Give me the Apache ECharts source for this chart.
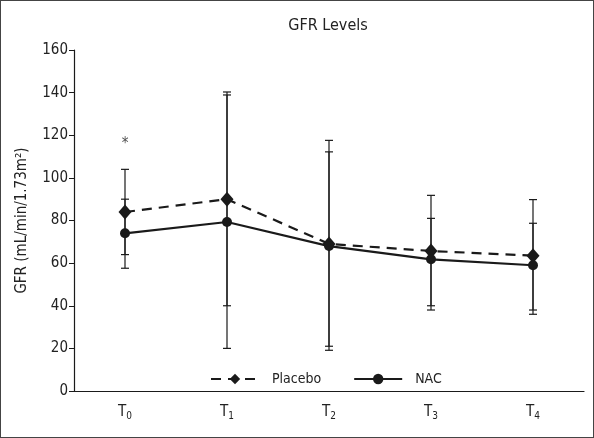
<!DOCTYPE html>
<html><head><meta charset="utf-8">
<script src="https://cdn.jsdelivr.net/npm/echarts@6/dist/echarts.min.js"></script>
<style>
html,body{margin:0;padding:0;background:#fff;}
#c{width:594px;height:438px;box-sizing:border-box;border:1px solid #444;}
</style></head>
<body><div id="c"></div>
<script>
var categories = ['0','1','2','3','4'];
var placeboMean = [84, 90, 69, 65.7, 63.5];
var placeboLow  = [64, 40, 21, 40, 38];
var placeboHigh = [104, 140.3, 117.6, 91.8, 89.8];
var nacMean = [74, 79.3, 68, 61.8, 59];
var nacLow  = [57.6, 20, 19.1, 38, 36];
var nacHigh = [90, 138.9, 112.2, 81, 78.7];
var yTicks = [0, 20, 40, 60, 80, 100, 120, 140, 160];
var starPoint = [[0, 116]];

var FONT = "'Liberation Sans Narrow','DejaVu Sans Condensed','Roboto',sans-serif";
var INK = '#1a1a1a';

function errData(lo, hi) {
  return categories.map(function (c, i) { return [i, lo[i], hi[i]]; });
}
function errRender(params, api) {
  var x = api.value(0);
  var lo = api.coord([x, api.value(1)]);
  var hi = api.coord([x, api.value(2)]);
  var hw = 4;
  var st = { stroke: INK, lineWidth: 1.2 };
  return {
    type: 'group',
    children: [
      { type: 'line', shape: { x1: lo[0], y1: lo[1], x2: hi[0], y2: hi[1] }, style: st },
      { type: 'line', shape: { x1: lo[0] - hw, y1: lo[1], x2: lo[0] + hw, y2: lo[1] }, style: st },
      { type: 'line', shape: { x1: hi[0] - hw, y1: hi[1], x2: hi[0] + hw, y2: hi[1] }, style: st }
    ]
  };
}

var chart = echarts.init(document.getElementById('c'), null, { renderer: 'canvas' });
chart.setOption({
  animation: false,
  backgroundColor: '#fff',
  textStyle: { fontFamily: FONT, color: '#222' },
  title: {
    text: 'GFR Levels', left: 322, top: 12, textAlign: 'center',
    textStyle: { fontFamily: FONT, fontSize: 16, fontWeight: 'normal', color: '#222' }
  },
  grid: { left: 73, top: 49, width: 510, height: 341 },
  legend: {
    left: 204, top: 366, itemWidth: 48, itemHeight: 13, itemGap: 32,
    textStyle: { fontFamily: FONT, fontSize: 14, color: '#222', padding: [0, 0, 0, 8] },
    data: ['Placebo', 'NAC']
  },
  xAxis: {
    type: 'category', data: categories,
    axisLine: { lineStyle: { color: INK, width: 1.2 } },
    axisTick: { show: false },
    axisLabel: {
      margin: 12,
      formatter: function (v) { return '{t|T}{s|' + v + '}'; },
      rich: {
        t: { fontFamily: FONT, fontSize: 15, color: '#222' },
        s: { fontFamily: FONT, fontSize: 10, color: '#222', padding: [8, 0, 0, 0] }
      }
    }
  },
  yAxis: {
    type: 'value', min: yTicks[0], max: yTicks[yTicks.length - 1], interval: 20,
    name: 'GFR (mL/min/1.73m²)', nameLocation: 'middle', nameGap: 44, nameRotate: 90,
    nameTextStyle: { fontFamily: FONT, fontSize: 15, color: '#222' },
    axisLine: { show: true, lineStyle: { color: INK, width: 1.2 } },
    axisTick: { show: true, length: 5, lineStyle: { color: INK } },
    splitLine: { show: false },
    axisLabel: { fontFamily: FONT, fontSize: 15, color: '#222', margin: 6 }
  },
  series: [
    {
      name: 'PlaceboErr', type: 'custom', renderItem: errRender, data: errData(placeboLow, placeboHigh),
      encode: { x: 0, y: [1, 2] }, z: 1, silent: true
    },
    {
      name: 'NACErr', type: 'custom', renderItem: errRender, data: errData(nacLow, nacHigh),
      encode: { x: 0, y: [1, 2] }, z: 1, silent: true
    },
    {
      name: 'Placebo', type: 'line', data: placeboMean, z: 3,
      symbol: 'diamond', symbolSize: [13, 15], showAllSymbol: true,
      itemStyle: { color: INK },
      lineStyle: { color: INK, width: 2.2, type: [10, 7] }
    },
    {
      name: 'NAC', type: 'line', data: nacMean, z: 4,
      symbol: 'circle', symbolSize: 10, showAllSymbol: true,
      itemStyle: { color: INK },
      lineStyle: { color: INK, width: 2.2 }
    },
    {
      name: 'star', type: 'scatter', data: starPoint, symbolSize: 0, silent: true,
      label: { show: true, formatter: '*', position: 'inside', fontFamily: FONT, fontSize: 15, color: '#222' }
    }
  ]
});
</script></body></html>
